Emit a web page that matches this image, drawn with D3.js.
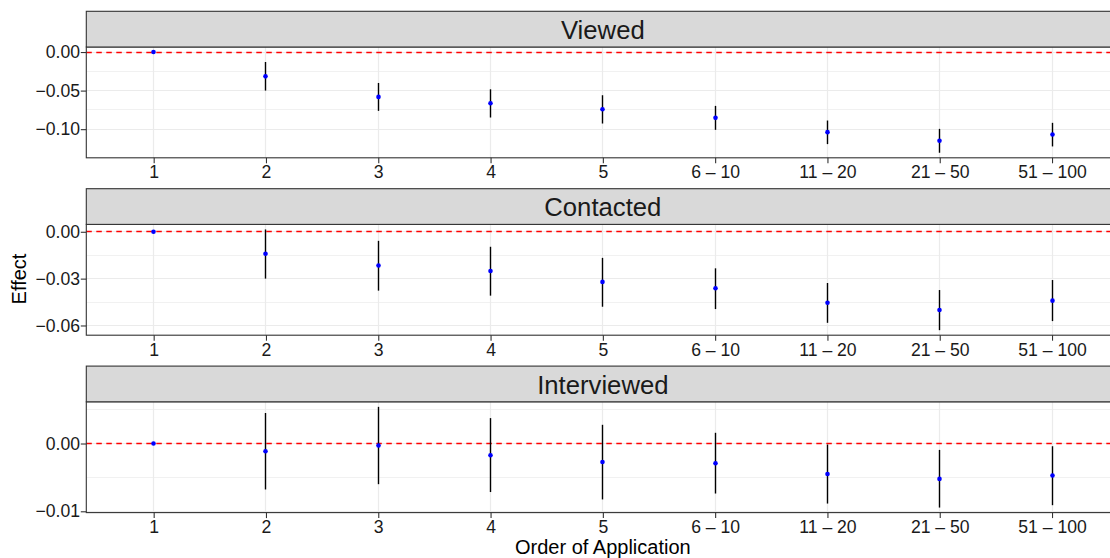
<!DOCTYPE html>
<html>
<head>
<meta charset="utf-8">
<script src="https://cdn.jsdelivr.net/npm/d3@7"></script>
<style>
  html, body { margin: 0; padding: 0; background: #ffffff; }
  svg { display: block; overflow: hidden; }
  text { font-family: "Liberation Sans", Arial, Helvetica, sans-serif; }
</style>
</head>
<body>
<div id="chart"></div>
<script>
// Order-of-application effects, one facet per outcome
const categories = ["1", "2", "3", "4", "5", "6 – 10", "11 – 20", "21 – 50", "51 – 100"];
const panelTitles = ["Viewed", "Contacted", "Interviewed"];

const viewedEst = [0, -0.0315, -0.0582, -0.0664, -0.0741, -0.0853, -0.1039, -0.1151, -0.1069];
const viewedLo  = [0, -0.0500, -0.0763, -0.0849, -0.0927, -0.1009, -0.1194, -0.1306, -0.1224];
const viewedHi  = [0, -0.0129, -0.0401, -0.0483, -0.0560, -0.0698, -0.0888, -0.0996, -0.0918];

const contactedEst = [0, -0.0141, -0.0216, -0.0251, -0.0321, -0.0362, -0.0454, -0.0501, -0.0441];
const contactedLo  = [0, -0.0300, -0.0377, -0.0409, -0.0480, -0.0495, -0.0583, -0.0630, -0.0572];
const contactedHi  = [0,  0.0015, -0.0058, -0.0096, -0.0167, -0.0234, -0.0328, -0.0373, -0.0309];

const interviewedEst = [0, -0.00114, -0.00030, -0.00173, -0.00272, -0.00292, -0.00450, -0.00522, -0.00473];
const interviewedLo  = [0, -0.00678, -0.00600, -0.00716, -0.00825, -0.00738, -0.00886, -0.00945, -0.00910];
const interviewedHi  = [0,  0.00450,  0.00541,  0.00375,  0.00276,  0.00158, -0.00015, -0.00094, -0.00040];

const viewedTicks = [0, -0.05, -0.10];
const viewedTickLabels = ["0.00", "\u22120.05", "\u22120.10"];
const viewedMinor = [-0.025, -0.075];

const contactedTicks = [0, -0.03, -0.06];
const contactedTickLabels = ["0.00", "\u22120.03", "\u22120.06"];
const contactedMinor = [-0.015, -0.045];

const interviewedTicks = [0, -0.01];
const interviewedTickLabels = ["0.00", "\u22120.01"];
const interviewedMinor = [0.005, -0.005];

const referenceLine = 0;

const panels = [
  { title: panelTitles[0], est: viewedEst, lo: viewedLo, hi: viewedHi, ticks: viewedTicks, labels: viewedTickLabels, minor: viewedMinor },
  { title: panelTitles[1], est: contactedEst, lo: contactedLo, hi: contactedHi, ticks: contactedTicks, labels: contactedTickLabels, minor: contactedMinor },
  { title: panelTitles[2], est: interviewedEst, lo: interviewedLo, hi: interviewedHi, ticks: interviewedTicks, labels: interviewedTickLabels, minor: interviewedMinor }
];

// Layout
const W = 1110, H = 558;
const left = 86.3, right = 1119.4;     // panel extends slightly past the canvas edge
const top0 = 11.3, period = 177.4, stripH = 35.7, plotH = 110.8;

// put 1px strokes on pixel centres so they stay sharp
const crisp = v => Math.round(v - 0.5) + 0.5;

const svg = d3.select("#chart").append("svg")
  .attr("width", W).attr("height", H);

const x = d3.scalePoint().domain(categories).range([left, right]).padding(0.6);

panels.forEach((p, i) => {
  const stripTop = top0 + i * period;
  const plotTop = stripTop + stripH;
  const plotBottom = plotTop + plotH;

  const dMin = Math.min(d3.min(p.lo), referenceLine);
  const dMax = Math.max(d3.max(p.hi), referenceLine);
  const pad = (dMax - dMin) * 0.05;
  const y = d3.scaleLinear().domain([dMin - pad, dMax + pad]).range([plotBottom, plotTop]);

  const g = svg.append("g");

  // panel background
  g.append("rect").attr("x", left).attr("y", plotTop)
    .attr("width", right - left).attr("height", plotH).attr("fill", "#ffffff");

  // minor grid
  g.selectAll(".minor").data(p.minor.filter(v => v >= y.domain()[0] && v <= y.domain()[1]))
    .enter().append("line")
    .attr("x1", left).attr("x2", right)
    .attr("y1", d => crisp(y(d))).attr("y2", d => crisp(y(d)))
    .attr("stroke", "#EBEBEB").attr("stroke-width", 0.7);

  // major grid
  g.selectAll(".majorY").data(p.ticks).enter().append("line")
    .attr("x1", left).attr("x2", right)
    .attr("y1", d => crisp(y(d))).attr("y2", d => crisp(y(d)))
    .attr("stroke", "#EBEBEB").attr("stroke-width", 1.2);
  g.selectAll(".majorX").data(categories).enter().append("line")
    .attr("x1", d => crisp(x(d))).attr("x2", d => crisp(x(d)))
    .attr("y1", plotTop).attr("y2", plotBottom)
    .attr("stroke", "#EBEBEB").attr("stroke-width", 1.2);

  // zero reference line
  g.append("line")
    .attr("x1", left).attr("x2", right)
    .attr("y1", crisp(y(referenceLine))).attr("y2", crisp(y(referenceLine)))
    .attr("stroke", "#FF0000").attr("stroke-width", 1.3)
    .attr("stroke-dasharray", "5.5,4.5");

  // confidence intervals
  g.selectAll(".ci").data(categories).enter().append("line")
    .attr("x1", d => crisp(x(d))).attr("x2", d => crisp(x(d)))
    .attr("y1", (d, j) => y(p.lo[j])).attr("y2", (d, j) => y(p.hi[j]))
    .attr("stroke", "#000000").attr("stroke-width", 1.4);

  // point estimates
  g.selectAll(".pt").data(categories).enter().append("circle")
    .attr("cx", d => crisp(x(d))).attr("cy", (d, j) => y(p.est[j]))
    .attr("r", 2.3).attr("fill", "#0000FF");

  // panel border
  g.append("rect").attr("x", left).attr("y", plotTop)
    .attr("width", right - left).attr("height", plotH)
    .attr("fill", "none").attr("stroke", "#333333").attr("stroke-width", 1.1);

  // strip
  g.append("rect").attr("x", left).attr("y", stripTop)
    .attr("width", right - left).attr("height", stripH)
    .attr("fill", "#D9D9D9").attr("stroke", "#333333").attr("stroke-width", 1.1);
  g.append("text")
    .attr("x", (left + right) / 2).attr("y", stripTop + 27.7)
    .attr("text-anchor", "middle")
    .attr("font-size", "25.7px").attr("fill", "#1A1A1A")
    .text(p.title);

  // axes
  const yAxis = d3.axisLeft(y).tickValues(p.ticks)
    .tickFormat((d, j) => p.labels[j]).tickSize(5.5).tickPadding(0.8);
  const ya = g.append("g").attr("transform", `translate(${left},0)`).call(yAxis);
  ya.select(".domain").remove();
  ya.selectAll("line").attr("stroke", "#333333").attr("stroke-width", 1.1);
  ya.selectAll("text").attr("font-size", "17.6px").attr("fill", "#1A1A1A")
    .attr("font-family", "\"Liberation Sans\", Arial, sans-serif");

  const xAxis = d3.axisBottom(x).tickSize(5.5).tickPadding(2.6);
  const xa = g.append("g").attr("transform", `translate(0,${plotBottom})`).call(xAxis);
  xa.select(".domain").remove();
  xa.selectAll("line").attr("stroke", "#333333").attr("stroke-width", 1.1);
  xa.selectAll("text").attr("font-size", "17.6px").attr("fill", "#1A1A1A")
    .attr("font-family", "\"Liberation Sans\", Arial, sans-serif");
});

// axis titles
svg.append("text")
  .attr("x", (left + right) / 2).attr("y", 553.5)
  .attr("text-anchor", "middle").attr("font-size", "20px").attr("fill", "#000000")
  .text("Order of Application");

svg.append("text")
  .attr("transform", "translate(26,279) rotate(-90)")
  .attr("text-anchor", "middle").attr("font-size", "20px").attr("fill", "#000000")
  .text("Effect");
</script>
</body>
</html>
